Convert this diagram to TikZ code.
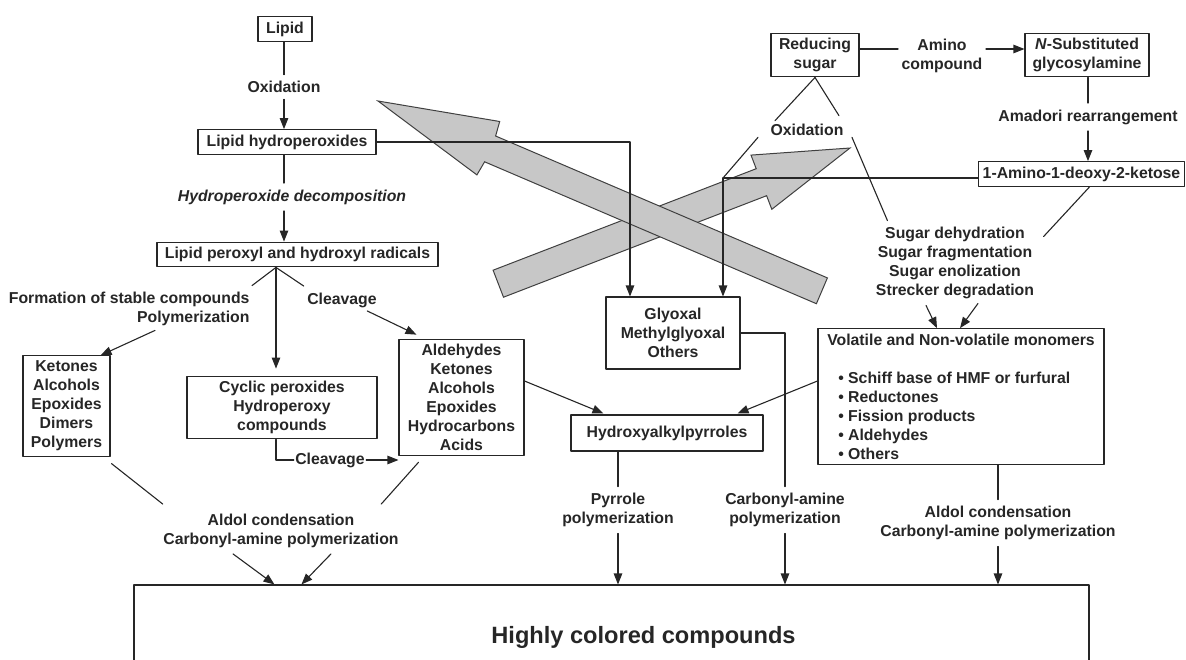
\documentclass[tikz,border=0pt]{standalone}
\usepackage{fontspec}
\setmainfont{Liberation Sans}
\usetikzlibrary{arrows.meta,calc}
\newcommand{\labfont}{\fontsize{15.8}{19}\selectfont\bfseries}
\newcommand{\itm}{\hspace*{11pt}\textbullet\ }
\begin{document}
\begin{tikzpicture}[x=1pt, y=-1pt, line join=round, line cap=round,
    >={Triangle[length=11pt,width=8.5pt]}, font=\labfont, color=black!85, line width=1.1pt,
    box/.style={draw, inner xsep=7pt, inner ysep=5pt, align=center},
    lbl/.style={inner xsep=3pt, inner ysep=6pt, align=center},
    bigarrow/.style={fill=black!22, draw=black!75, line width=1pt, line join=miter}]
\useasboundingbox (0,0) rectangle (1186,659);

% the two broad grey arrows
\draw[bigarrow] (850,148) -- (771.8,209.3) -- (766.6,195.7) -- (503.5,297.2) -- (493.1,270.2) -- (756.2,168.7) -- (751,155.1) -- cycle;
\draw[bigarrow] (378,101) -- (499.7,121.5) -- (495.6,136) -- (827.4,277.9) -- (816.4,303.7) -- (484.6,161.8) -- (476.9,174.9) -- cycle;

% lipid side
\node[box, minimum width=54pt] (lipid) at (285,29) {Lipid};
\node[lbl] (oxid1) at (284,87) {Oxidation};
\node[box, minimum width=178pt] (hydroperox) at (287,142) {Lipid hydroperoxides};
\node[lbl] (decomp) at (292,197) {\textit{Hydroperoxide decomposition}};
\node[box, minimum width=281pt] (radicals) at (297.5,254.5) {Lipid peroxyl and hydroxyl radicals};
\node[lbl, align=right, anchor=east] (form) at (253,309) {Formation of stable compounds\\Polymerization};
\node[lbl] (cleave1) at (342,300) {Cleavage};
\node[box, minimum width=87pt] (ketones) at (66.5,406) {Ketones\\Alcohols\\Epoxides\\Dimers\\Polymers};
\node[box, minimum width=190pt] (cyclic) at (282,407.5) {Cyclic peroxides\\Hydroperoxy\\compounds};
\node[box, minimum width=125pt] (aldehydes) at (461.5,397.5) {Aldehydes\\Ketones\\Alcohols\\Epoxides\\Hydrocarbons\\Acids};
\node[lbl, inner xsep=1pt] (cleav2) at (330,460) {Cleavage};
\node[lbl] (aldol1) at (281,530.5) {Aldol condensation\\Carbonyl-amine polymerization};

% middle
\node[box, minimum width=134pt, minimum height=72pt] (glyoxal) at (673,333) {Glyoxal\\Methylglyoxal\\Others};
\node[box, minimum width=192pt, minimum height=36pt] (pyrroles) at (667,433) {Hydroxyalkylpyrroles};
\node[lbl] (pyrpol) at (618,510) {Pyrrole\\polymerization};
\node[lbl] (carbpol) at (785,510) {Carbonyl-amine\\polymerization};

% sugar side
\node[box, minimum width=88pt] (sugar) at (815,55) {Reducing\\sugar};
\node[lbl] (amino) at (942,55.5) {Amino\\compound};
\node[box, minimum width=124pt] (glycosyl) at (1087,55) {\textit{N}-Substituted\\glycosylamine};
\node[lbl] (amadori) at (1088,117) {Amadori rearrangement};
\node[box, inner xsep=4.5pt] (ketose) at (1081.5,174) {1-Amino-1-deoxy-2-ketose};
\node[lbl] (oxid2) at (807,130) {Oxidation};
\node[lbl] (sugarrxn) at (955,263) {Sugar dehydration\\Sugar fragmentation\\Sugar enolization\\Strecker degradation};
\node[box, minimum width=286pt, align=left] (monomers) at (961,396.5) {Volatile and Non-volatile monomers\\[19pt]
    \itm Schiff base of HMF or furfural\\ \itm Reductones\\ \itm Fission products\\ \itm Aldehydes\\ \itm Others};
\node[lbl] (aldol2) at (998,523) {Aldol condensation\\Carbonyl-amine polymerization};
\coordinate (jct) at (723,178);

\node[draw, minimum width=955pt, minimum height=104pt, font=\fontsize{23.6}{28}\selectfont\bfseries] (colored) at (611.5,637) {\hspace*{64pt}Highly colored compounds};

% connectors, lipid side
\draw (lipid.south -| oxid1) -- (oxid1.north);
\draw[->] (oxid1.south) -- (oxid1.south |- hydroperox.north);
\draw (hydroperox.south -| oxid1) -- (decomp.north -| oxid1);
\draw[->] (decomp.south -| oxid1) -- (radicals.north -| oxid1);
\draw[->] ($(radicals.south)+(-21.5,0)$) -- ($(cyclic.north)+(-6,-7)$);
\draw ($(radicals.south)+(-21.5,0)$) -- ($(form.north east)+(-1,0)$);
\draw ($(radicals.south)+(-21.5,0)$) -- (cleave1.north west);
\draw[->] ($(form.south east)+(-98,-2)$) -- ($(ketones.north east)+(-10,0)$);
\draw[->] ($(cleave1.south east)+(-13,-3)$) -- ($(aldehydes.north west)+(18,-4)$);
\draw ($(cyclic.south)+(-6,0)$) |- (cleav2.west);
\draw[->] (cleav2.east) -- (cleav2.east -| aldehydes.west);
\draw ($(ketones.south east)+(1,7)$) -- ($(aldol1.north west)+(3,-3)$);
\draw ($(aldehydes.south west)+(20,6)$) -- ($(aldol1.north east)+(-21,-3)$);
\draw[->] ($(aldol1.south)+(-48,0)$) -- ($(colored.north west)+(141,0)$);
\draw[->] ($(aldol1.south)+(50,0)$) -- ($(colored.north west)+(168,0)$);
\draw[->] (hydroperox.east) -| ($(glyoxal.north)+(-43,0)$);

% connectors, sugar side
\draw ($(sugar.east)+(0,-6)$) -- ($(amino.west)+(0,-6.5)$);
\draw[->] ($(amino.east)+(0,-6.5)$) -- ($(glycosyl.west)+(0,-6)$);
\draw (glycosyl.south -| amadori) -- (amadori.north);
\draw[->] (amadori.south) -- (amadori.south |- ketose.north);
\draw (sugar.south) -- ($(oxid2.north west)+(8,3)$);
\draw (sugar.south) -- ($(oxid2.north east)+(-8,-2)$);
\draw ($(oxid2.south west)+(-9,-5)$) -- (jct);
\draw ($(oxid2.south east)+(5,-5)$) -- ($(sugarrxn.north west)+(15,0)$);
\draw ($(ketose.south)+(8,0)$) -- ($(sugarrxn.north east)+(6,16)$);
\draw ($(ketose.west)+(0,4)$) -- (jct);
\draw[->] (jct) -- (jct |- glyoxal.north);
\draw[->] ($(sugarrxn.south)+(-29,0)$) -- ($(monomers.north)+(-24,0)$);
\draw[->] ($(sugarrxn.south)+(23,-2)$) -- ($(monomers.north)+(-1,0)$);

% into the pyrroles and down to the coloured compounds
\draw[->] ($(aldehydes.east)+(0,-16.5)$) -- ($(pyrroles.north west)+(33,-1)$);
\draw[->] ($(monomers.west)+(0,-15.5)$) -- ($(pyrroles.north east)+(-26,-1)$);
\draw (pyrpol.north |- pyrroles.south) -- (pyrpol.north);
\draw[->] (pyrpol.south) -- (pyrpol.south |- colored.north);
\draw (glyoxal.east) -| (carbpol.north);
\draw[->] (carbpol.south) -- (carbpol.south |- colored.north);
\draw (aldol2.north |- monomers.south) -- (aldol2.north);
\draw[->] (aldol2.south) -- (aldol2.south |- colored.north);
\end{tikzpicture}
\end{document}
